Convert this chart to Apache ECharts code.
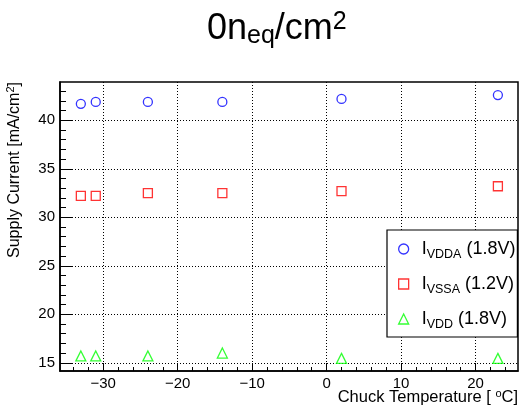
<!DOCTYPE html>
<html>
<head>
<meta charset="utf-8">
<script src="https://cdn.jsdelivr.net/npm/echarts@6/dist/echarts.min.js"></script>
<style>
html, body { margin: 0; padding: 0; background: #fff; }
#chart { width: 520px; height: 406px; }
</style>
</head>
<body>
<div id="chart"></div>
<script>
var temps = [-33, -31, -24, -14, 2, 23];
var iVdda = [41.7, 41.9, 41.9, 41.9, 42.2, 42.6];
var iVssa = [32.2, 32.2, 32.5, 32.5, 32.7, 33.2];
var iVdd = [15.7, 15.7, 15.7, 16.0, 15.45, 15.45];
var seriesNames = ['I_VDDA (1.8V)', 'I_VSSA (1.2V)', 'I_VDD (1.8V)'];

var xMajor = [-30, -20, -10, 0, 10, 20];
var xMinor = [-34, -32, -30, -28, -26, -24, -22, -20, -18, -16, -14, -12, -10, -8, -6, -4, -2, 0, 2, 4, 6, 8, 10, 12, 14, 16, 18, 20, 22, 24];
var yMajor = [15, 20, 25, 30, 35, 40];
var yMinor = [15, 16, 17, 18, 19, 20, 21, 22, 23, 24, 25, 26, 27, 28, 29, 30, 31, 32, 33, 34, 35, 36, 37, 38, 39, 40, 41, 42, 43];

var xMin = -35.8, xMax = 25.7;
var yMin = 14.15, yMax = 43.95;

var font = 'Liberation Sans, Arial, sans-serif';

function pairs(ys) {
    var out = [];
    for (var i = 0; i < temps.length; i++) {
        out.push([temps[i], ys[i]]);
    }
    return out;
}

function minus(v) {
    return String(v).replace('-', '\u2212');
}

var myChart = echarts.init(document.getElementById('chart'));

var option = {
    animation: false,
    backgroundColor: '#fff',
    title: {
        text: '{n|0n}{sub|eq}{n|/cm}{sup|2}',
        left: 202,
        top: 5,
        textStyle: {
            fontFamily: font,
            fontSize: 36,
            fontWeight: 'normal',
            color: '#000',
            rich: {
                n: { fontFamily: font, fontSize: 36, color: '#000' },
                sub: { fontFamily: font, fontSize: 25, color: '#000', padding: [14, 0, 0, 0] },
                sup: { fontFamily: font, fontSize: 25, color: '#000', padding: [0, 0, 14, 0] }
            }
        }
    },
    grid: {
        left: 60,
        right: 2,
        top: 82,
        bottom: 35,
        containLabel: false,
        outerBoundsMode: 'none',
        show: true,
        borderColor: '#000',
        borderWidth: 1.5
    },
    legend: {
        orient: 'vertical',
        left: 387,
        top: 230,
        backgroundColor: '#fff',
        borderColor: '#000',
        borderWidth: 1.2,
        padding: [10, 2, 6, 11],
        itemGap: 14,
        itemWidth: 10,
        itemHeight: 10,
        data: [
            { name: seriesNames[0], icon: 'circle', itemStyle: { color: 'transparent', borderColor: '#0000ff', borderWidth: 1.3 } },
            { name: seriesNames[1], icon: 'rect', itemStyle: { color: 'transparent', borderColor: '#ff0000', borderWidth: 1.3 } },
            { name: seriesNames[2], icon: 'triangle', itemStyle: { color: 'transparent', borderColor: '#00ff00', borderWidth: 1.3 } }
        ],
        formatter: function (name) {
            return name.replace(/_(\w+)/, '{sub|$1}');
        },
        textStyle: {
            fontFamily: font,
            fontSize: 18,
            color: '#000',
            padding: [0, 0, 0, 8],
            rich: {
                sub: { fontFamily: font, fontSize: 12.5, color: '#000', padding: [11, 0, 0, 0] }
            }
        }
    },
    xAxis: [
        {
            type: 'value',
            min: xMin,
            max: xMax,
            position: 'bottom',
            name: 'Chuck Temperature [ {sup|o}C]',
            nameLocation: 'end',
            nameGap: 0,
            nameMoveOverlap: false,
            nameTextStyle: {
                fontFamily: font,
                fontSize: 16.5,
                color: '#000',
                align: 'right',
                verticalAlign: 'top',
                padding: [17, 0, 0, 0],
                rich: {
                    sup: { fontFamily: font, fontSize: 11, color: '#000', padding: [0, 0, 8, 0] }
                }
            },
            axisLine: { show: true, onZero: false, lineStyle: { color: '#000', width: 1.5 } },
            axisTick: { show: true, inside: true, length: 8, customValues: xMajor, lineStyle: { color: '#000', width: 1 } },
            axisLabel: { customValues: xMajor, formatter: minus, fontFamily: font, fontSize: 15, color: '#000', margin: 5 },
            splitLine: { show: true, lineStyle: { color: '#000', width: 1, type: [1, 2] } }
        },
        {
            type: 'value',
            min: xMin,
            max: xMax,
            position: 'bottom',
            axisLine: { show: false, onZero: false },
            axisTick: { show: true, inside: true, length: 4, customValues: xMinor, lineStyle: { color: '#000', width: 1 } },
            axisLabel: { show: false },
            splitLine: { show: false }
        }
    ],
    yAxis: [
        {
            type: 'value',
            min: yMin,
            max: yMax,
            position: 'left',
            name: 'Supply Current [mA/cm{sup|2}]',
            nameLocation: 'end',
            nameRotate: 90,
            nameGap: 0,
            nameMoveOverlap: false,
            nameTextStyle: {
                fontFamily: font,
                fontSize: 16,
                color: '#000',
                align: 'right',
                verticalAlign: 'bottom',
                padding: [0, 0, 36, 0],
                rich: {
                    sup: { fontFamily: font, fontSize: 11, color: '#000', padding: [0, 0, 8, 0] }
                }
            },
            axisLine: { show: true, onZero: false, lineStyle: { color: '#000', width: 1.5 } },
            axisTick: { show: true, inside: true, length: 12, customValues: yMajor, lineStyle: { color: '#000', width: 1 } },
            axisLabel: { customValues: yMajor, fontFamily: font, fontSize: 15, color: '#000', margin: 5 },
            splitLine: { show: true, lineStyle: { color: '#000', width: 1, type: [1, 2] } }
        },
        {
            type: 'value',
            min: yMin,
            max: yMax,
            position: 'left',
            axisLine: { show: false, onZero: false },
            axisTick: { show: true, inside: true, length: 6, customValues: yMinor, lineStyle: { color: '#000', width: 1 } },
            axisLabel: { show: false },
            splitLine: { show: false }
        }
    ],
    series: [
        {
            name: seriesNames[0],
            type: 'scatter',
            symbol: 'circle',
            symbolSize: 9,
            itemStyle: { color: 'transparent', borderColor: '#0000ff', borderWidth: 1.3 },
            data: pairs(iVdda)
        },
        {
            name: seriesNames[1],
            type: 'scatter',
            symbol: 'rect',
            symbolSize: 9,
            itemStyle: { color: 'transparent', borderColor: '#ff0000', borderWidth: 1.3 },
            data: pairs(iVssa)
        },
        {
            name: seriesNames[2],
            type: 'scatter',
            symbol: 'triangle',
            symbolSize: 10,
            itemStyle: { color: 'transparent', borderColor: '#00ff00', borderWidth: 1.3 },
            data: pairs(iVdd)
        }
    ]
};

myChart.setOption(option);
</script>
</body>
</html>
